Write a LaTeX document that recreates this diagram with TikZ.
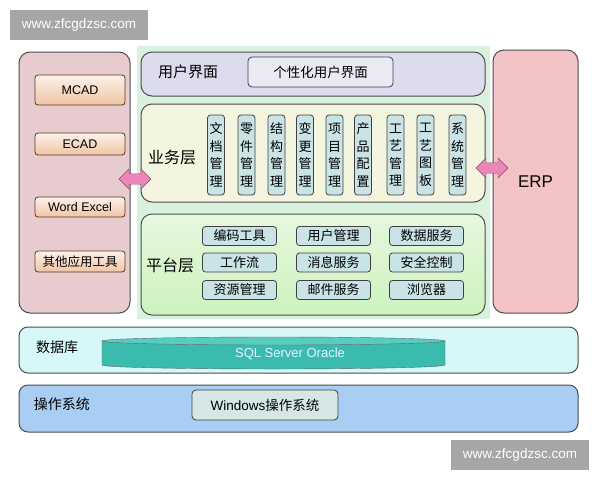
\documentclass[tikz,border=0pt]{standalone}
\usepackage{fontspec}
\setmainfont{Liberation Sans}
\newfontfamily\cjk{Noto Sans CJK SC}
\usetikzlibrary{shapes.arrows,positioning}

\definecolor{toolTop}{HTML}{FCF1EA}
\definecolor{toolBot}{HTML}{F0C4A4}
\definecolor{leftFill}{HTML}{E8CBCE}
\definecolor{erpFill}{HTML}{F3C3C5}
\definecolor{bgGreen}{HTML}{D9F1DF}
\definecolor{uiFill}{HTML}{DCDCEE}
\definecolor{bizFill}{HTML}{F4F5DE}
\definecolor{modFill}{HTML}{C9E3E6}
\definecolor{platTop}{HTML}{E6F8DE}
\definecolor{platBot}{HTML}{CDF2BE}
\definecolor{dbFill}{HTML}{D6F8F8}
\definecolor{osFill}{HTML}{A9CDF3}
\definecolor{winFill}{HTML}{D4E7E5}
\definecolor{cylBody}{HTML}{3BBBAE}
\definecolor{cylTop}{HTML}{55CDC1}
\definecolor{linkPink}{HTML}{EC86B8}

\begin{document}
\begin{tikzpicture}[
x=1pt,y=-1pt,
panel/.style={
	draw=black!70,
	line width=1pt,
	rounded corners=11pt,
	inner sep=0pt
},
tool/.style={
	draw=brown!45!black,
	line width=0.8pt,
	rounded corners=3pt,
	top color=toolTop,
	bottom color=toolBot,
	minimum width=90pt,
	inner sep=0pt,
	font=\fontsize{12.5}{13}\selectfont
},
module/.style={
	draw=black!75,
	line width=0.8pt,
	fill=modFill,
	rounded corners=3pt,
	minimum width=17pt,
	minimum height=80pt,
	inner sep=0pt,
	align=center,
	font=\cjk\fontsize{13}{17.5}\selectfont
},
service/.style={
	draw=black!75,
	line width=0.8pt,
	fill=modFill,
	rounded corners=3pt,
	minimum width=74pt,
	minimum height=19pt,
	inner sep=0pt,
	font=\cjk\fontsize{13}{13}\selectfont
},
layer/.style={
	font=\cjk\fontsize{15}{15}\selectfont
},
link/.style={
	double arrow,
	draw=magenta!50!black,
	fill=linkPink,
	minimum height=32pt,
	minimum width=20pt,
	double arrow head extend=2pt,
	inner sep=2pt
},
wmark/.style={
	fill=black!35,
	text=white,
	minimum width=138pt,
	minimum height=30pt,
	font=\fontsize{13.5}{14}\selectfont
}
]
\useasboundingbox (0,0) rectangle (600,480);
\fill[white] (0,0) rectangle (600,480);

\node[wmark] (wmTop) at (79,25) {www.zfcgdzsc.com};
\node[wmark] (wmBot) at (520,455) {www.zfcgdzsc.com};

% left tools
\node[panel,fill=leftFill,minimum width=111pt,minimum height=261pt] (tools) at (74.5,182.5) {};
\node[tool,minimum height=30pt] (mcad) at (80,90) {MCAD};
\node[tool,minimum height=22pt] (ecad) at (80,144) {ECAD};
\node[tool,minimum height=20pt] (office) at (80,207) {Word Excel};
\node[tool,minimum height=21pt,font=\cjk\fontsize{12.5}{13}\selectfont] (other) at (80,261.5) {其他应用工具};

% ERP
\node[panel,fill=erpFill,minimum width=85pt,minimum height=263pt,font=\fontsize{17}{17}\selectfont] (erp) at (535.5,181.5) {ERP};

% PLM core
\fill[bgGreen] (137,46) rectangle (490,319);

\node[panel,fill=uiFill,minimum width=344pt,minimum height=44pt] (ui) at (313,74) {};
\node[layer] (uiLabel) at (188,72) {用户界面};
\node[draw=black!75,line width=0.8pt,fill=uiFill!60!white,rounded corners=4pt,minimum width=145pt,minimum height=30pt,font=\cjk\fontsize{13.5}{14}\selectfont] (uiBox) at (320.5,72) {个性化用户界面};

\node[panel,fill=bizFill,minimum width=344pt,minimum height=98pt] (biz) at (313,153) {};
\node[layer,font=\cjk\fontsize{16}{16}\selectfont] (bizLabel) at (172,157) {业务层};
\foreach \x/\l [count=\i] in {216/文\\档\\管\\理,246.5/零\\件\\管\\理,276.5/结\\构\\管\\理,305/变\\更\\管\\理,334.5/项\\目\\管\\理,363/产\\品\\配\\置,395.5/工\\艺\\管\\理,425.5/工\\艺\\图\\板,457.5/系\\统\\管\\理}
\node[module] (m\i) at (\x,155) {\l};

\node[panel,top color=platTop,bottom color=platBot,minimum width=344pt,minimum height=101pt] (plat) at (313,264.5) {};
\node[layer,font=\cjk\fontsize{16}{16}\selectfont] (platLabel) at (170,265) {平台层};
\foreach \y/\a/\b/\c [count=\i] in {236/编码工具/用户管理/数据服务,262.5/工作流/消息服务/安全控制,290/资源管理/邮件服务/浏览器}
{
\node[service] (sa\i) at (239.5,\y) {\a};
\node[service] (sb\i) at (333.5,\y) {\b};
\node[service] (sc\i) at (426.5,\y) {\c};
}

\node[link] (leftLink) at (135,179) {};
\node[link] (rightLink) at (492,168) {};

% database
\node[panel,fill=dbFill,minimum width=559pt,minimum height=46pt,rounded corners=9pt] (db) at (298.5,350) {};
\node[layer,font=\cjk\fontsize{14}{14}\selectfont] (dbLabel) at (57,347) {数据库};
\filldraw[fill=cylBody,draw=black!60] (102,341) -- (102,365) arc[start angle=180,end angle=0,x radius=171.5,y radius=4] -- (445,341) -- cycle;
\filldraw[fill=cylTop,draw=black!60] (273.5,341) ellipse[x radius=171.5,y radius=4];
\node[text=white!88!cyan,font=\fontsize{13}{13}\selectfont] (sql) at (290,354) {SQL Server Oracle};

% operating system
\node[panel,fill=osFill,minimum width=559pt,minimum height=47pt,rounded corners=9pt] (os) at (298.5,408.5) {};
\node[layer,font=\cjk\fontsize{14}{14}\selectfont] (osLabel) at (62,404) {操作系统};
\node[draw=black!75,line width=0.8pt,fill=winFill,rounded corners=4pt,minimum width=146pt,minimum height=30pt,font=\fontsize{13.5}{14}\selectfont] (win) at (265,405) {Windows{\cjk 操作系统}};
\end{tikzpicture}
\end{document}
